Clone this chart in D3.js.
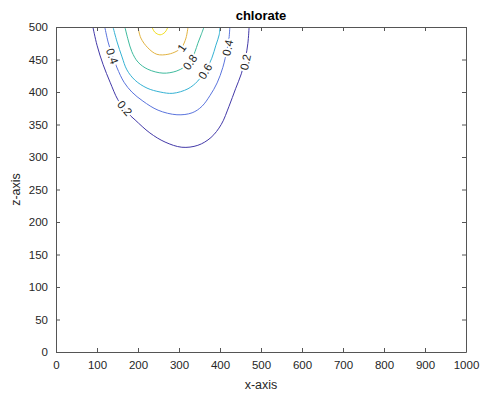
<!DOCTYPE html>
<html>
<head>
<meta charset="utf-8">
<script src="https://cdn.jsdelivr.net/npm/d3@7"></script>
<style>
  body { margin: 0; background: #fff; }
  text { font-family: "Liberation Sans", Arial, sans-serif; fill: #262626; }
  .axis path, .axis line { stroke: #555; }
</style>
</head>
<body>
<svg id="plot"></svg>
<script>
// Contour levels and colours (parula-like)
const levels = [0.2, 0.4, 0.6, 0.8, 1.0, 1.2];
const levelColors = ["#4339a8", "#5a74dd", "#35b2d4", "#3fbb9e", "#e2b341", "#f2df22"];

// Contour lines, [x, z] in data units
const line02 = [[90,500],[100,472],[115,442],[132,415],[151,388],[173,369],[193,357],[229,337],[266,323],[307,315],[346,318],[378,330],[403,350],[422,378],[438,405],[452,428],[462,452],[468,475],[471,500]];
const line04 = [[119,500],[127,477],[137,457],[149,437],[166,415],[185,400],[212,386],[249,372],[295,365],[332,368],[356,378],[376,395],[393,414],[407,438],[417,465],[422,483],[424,500]];
const line06 = [[139,500],[149,477],[161,454],[173,434],[193,418],[222,406],[254,400],[285,398],[322,405],[346,417],[366,434],[380,452],[390,472],[398,488],[400,500]];
const line08 = [[168,500],[176,480],[185,462],[200,446],[224,435],[261,429],[293,432],[312,438],[327,446],[339,462],[346,475],[354,488],[361,500]];
const line10 = [[200,500],[207,483],[224,468],[246,458],[273,458],[295,463],[307,469],[317,483],[322,500]];
const line12 = [[234,500],[241,492],[254,488],[266,492],[273,500]];
const contourLines = [line02, line04, line06, line08, line10, line12];

// Inline labels: level index and where they sit
const labelLevel = [1, 0, 4, 3, 2, 1, 0];
const labelX = [137, 168, 307, 327, 364, 419, 462];
const labelZ = [455, 375, 468, 446, 432, 468, 446];

const xTicks = d3.range(0, 1001, 100);
const zTicks = d3.range(0, 501, 50);

const W = 486, H = 394;
const margin = { top: 27, right: 20, bottom: 42, left: 56 };
const width = W - margin.left - margin.right;
const height = H - margin.top - margin.bottom;

const svg = d3.select("#plot").attr("width", W).attr("height", H);
const g = svg.append("g").attr("transform", `translate(${margin.left},${margin.top})`);

const x = d3.scaleLinear().domain([0, 1000]).range([0, width]);
const z = d3.scaleLinear().domain([0, 500]).range([height, 0]);

// contour lines
const line = d3.line().x(d => x(d[0])).y(d => z(d[1])).curve(d3.curveCatmullRom.alpha(0.5));
g.append("clipPath").attr("id", "clip").append("rect").attr("width", width).attr("height", height);
g.append("g").attr("clip-path", "url(#clip)")
  .selectAll("path").data(contourLines).enter().append("path")
  .attr("d", line)
  .attr("fill", "none")
  .attr("stroke", (d, i) => levelColors[i])
  .attr("stroke-width", 1);

// labels rotated along the line
labelLevel.forEach((li, k) => {
  const pts = contourLines[li];
  const px = x(labelX[k]), py = z(labelZ[k]);
  let best = 0, bd = Infinity;
  pts.forEach((p, j) => {
    const dd = (x(p[0]) - px) ** 2 + (z(p[1]) - py) ** 2;
    if (dd < bd) { bd = dd; best = j; }
  });
  const a = pts[Math.max(0, best - 1)], b = pts[Math.min(pts.length - 1, best + 1)];
  let ang = Math.atan2(z(b[1]) - z(a[1]), x(b[0]) - x(a[0])) * 180 / Math.PI;
  if (ang > 90) ang -= 180;
  if (ang < -90) ang += 180;
  const lv = levels[li];
  g.append("text")
    .attr("transform", `translate(${px},${py}) rotate(${ang})`)
    .attr("text-anchor", "middle")
    .attr("dy", "0.35em")
    .style("font-size", "11.5px")
    .style("stroke", "#fff").style("stroke-width", 4).style("paint-order", "stroke")
    .text(lv === 1 ? "1" : lv.toString());
});

// axes (box with mirrored inward ticks)
const tl = 4;
g.append("g").attr("class", "axis").attr("transform", `translate(0,${height})`)
  .call(d3.axisBottom(x).tickValues(xTicks).tickFormat(d3.format("d")).tickSize(-tl).tickPadding(9).tickSizeOuter(0))
  .call(s => s.selectAll("text").style("font-size", "11.5px"));
g.append("g").attr("class", "axis")
  .call(d3.axisTop(x).tickValues(xTicks).tickSize(-tl).tickFormat("").tickSizeOuter(0));
g.append("g").attr("class", "axis")
  .call(d3.axisLeft(z).tickValues(zTicks).tickFormat(d3.format("d")).tickSize(-tl).tickPadding(8).tickSizeOuter(0))
  .call(s => s.selectAll("text").style("font-size", "11.5px"));
g.append("g").attr("class", "axis").attr("transform", `translate(${width},0)`)
  .call(d3.axisRight(z).tickValues(zTicks).tickSize(-tl).tickFormat("").tickSizeOuter(0));

// axis labels
g.append("text")
  .attr("x", width / 2).attr("y", height + 37)
  .attr("text-anchor", "middle")
  .style("font-size", "12.5px")
  .text("x-axis");

g.append("text")
  .attr("transform", "rotate(-90)")
  .attr("x", -height / 2).attr("y", -36)
  .attr("text-anchor", "middle")
  .style("font-size", "12.5px")
  .text("z-axis");

// title
g.append("text")
  .attr("x", width / 2).attr("y", -7)
  .attr("text-anchor", "middle")
  .style("font-size", "13px").style("font-weight", "bold")
  .style("fill", "#000")
  .text("chlorate");
</script>
</body>
</html>
